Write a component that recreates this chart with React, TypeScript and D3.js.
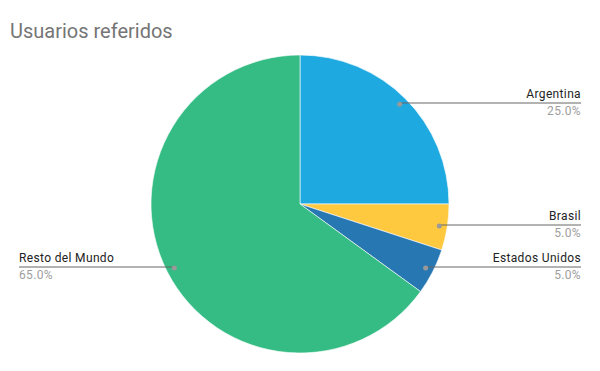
import React from "react";
import * as d3 from "d3";

const categories = ["Argentina", "Brasil", "Estados Unidos", "Resto del Mundo"];
const values = [25, 5, 5, 65];
const colors = ["#1fa9e1", "#ffc93f", "#2777b3", "#35bc85"];
const title = "Usuarios referidos";

const W = 600;
const H = 371;
const cx = 300;
const cy = 204;
const R = 149;
const dotR = 141;

// label layout: side and y of the leader line
const labelLayout = [
  { side: "right", lineY: 103 },
  { side: "right", lineY: 225 },
  { side: "right", lineY: 267 },
  { side: "left", lineY: 267 },
];

export default function App() {
  const pie = d3.pie<number>().sort(null).value((d) => d);
  const arcs = pie(values);
  const arc = d3.arc<d3.PieArcDatum<number>>().innerRadius(0).outerRadius(R);
  const total = d3.sum(values);
  const fmt = d3.format(".1%");
  return (
    <svg width={W} height={H} style={{ position: "absolute", left: 0, top: 0, fontFamily: "Roboto, Arial, sans-serif" }}>
      <rect width={W} height={H} fill="#fff" />
      <text x={10} y={38} fontSize={20} fill="#757575">{title}</text>
      <g transform={`translate(${cx},${cy})`}>
        {arcs.map((a, i) => (
          <path key={i} d={arc(a) || ""} fill={colors[i]} stroke="#fff" strokeWidth={0.6} />
        ))}
      </g>
      {arcs.map((a, i) => {
        const mid = (a.startAngle + a.endAngle) / 2;
        const dx = cx + Math.sin(mid) * dotR;
        const dy = cy - Math.cos(mid) * dotR;
        const lay = labelLayout[i];
        const ly = lay.lineY;
        const right = lay.side === "right";
        const endX = right ? 581 : 19;
        const tx = endX;
        const anchor = right ? "end" : "start";
        return (
          <g key={i}>
            <polyline points={`${dx},${dy} ${dx},${ly} ${endX},${ly}`} fill="none" stroke="#666" strokeWidth={1} />
            <circle cx={dx} cy={dy} r={2.5} fill="#999" />
            <text x={tx} y={ly - 5} fontSize={12} fill="#222" textAnchor={anchor} letterSpacing={0.35}>{categories[i]}</text>
            <text x={tx} y={ly + 12} fontSize={12} fill="#9e9e9e" textAnchor={anchor} letterSpacing={0.35}>{fmt(values[i] / total)}</text>
          </g>
        );
      })}
    </svg>
  );
}
